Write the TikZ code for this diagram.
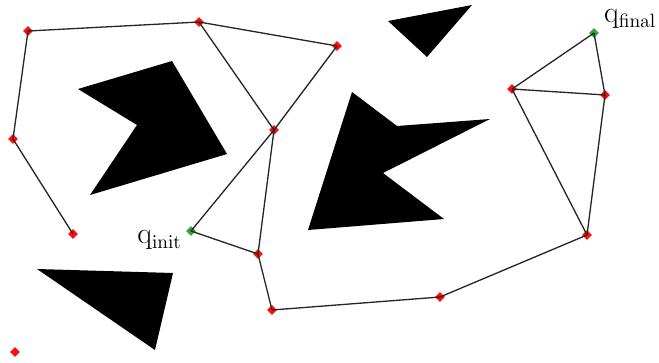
\documentclass[tikz,border=0pt]{standalone}
\usetikzlibrary{shapes.geometric}

\tikzset{
  sample/.style={diamond, fill=smpcol, inner sep=0, minimum size=0.2cm},
  endpt/.style={sample, fill=endcol},
  edge/.style={black!85, line width=0.75pt},
  obst/.style={fill=black, draw=none},
  qlab/.style={font=\fontsize{16}{19}\selectfont, inner sep=1pt},
}
\colorlet{smpcol}{red!95!white}
\colorlet{endcol}{green!55!black!80!white}

\begin{document}
\begin{tikzpicture}[x=0.02cm, y=-0.02cm]
    % canvas: pixel units, y pointing down
    \useasboundingbox (0,0) rectangle (659,362);

    % --- obstacles ---
    \fill[obst] (78,89) -- (172,61) -- (227,154) -- (90,195) -- (137,125) -- cycle;
    \fill[obst] (388,21) -- (472,5) -- (427,57) -- cycle;
    \fill[obst] (352,92) -- (397,126) -- (490,119) -- (383,173) -- (444,219) -- (308,230) -- cycle;
    \fill[obst] (37,269) -- (173,273) -- (155,350) -- cycle;

    % --- roadmap samples ---
    \node[sample] (a) at (28,31) {};
    \node[sample] (b) at (199,22) {};
    \node[sample] (c) at (337,46) {};
    \node[sample] (d) at (13,139) {};
    \node[sample] (e) at (73,234) {};
    \node[sample] (f) at (274,130) {};
    \node[sample] (h) at (258,254) {};
    \node[sample] (i) at (272,310) {};
    \node[sample] (j) at (440,297) {};
    \node[sample] (k) at (587,235) {};
    \node[sample] (l) at (512,89) {};
    \node[sample] (m) at (605,95) {};
    \node[sample] (o) at (15,352) {};

    % --- start / goal ---
    \node[endpt] (qi) at (191,231) {};
    \node[endpt] (qf) at (594,33) {};
    \node[qlab, anchor=east] (qilab) at (184,240) {$\mathrm{q}_{\mathrm{init}}$};
    \node[qlab, anchor=south west] (qflab) at (602,31) {$\mathrm{q}_{\mathrm{final}}$};

    % --- edges ---
    \foreach \u/\v in {d/a, a/b, b/c, b/f, c/f, d/e, f/qi, f/h, qi/h, h/i, i/j, j/k,
                       k/l, k/m, l/m, l/qf, qf/m}
      \draw[edge] (\u.center) -- (\v.center);
\end{tikzpicture}
\end{document}
